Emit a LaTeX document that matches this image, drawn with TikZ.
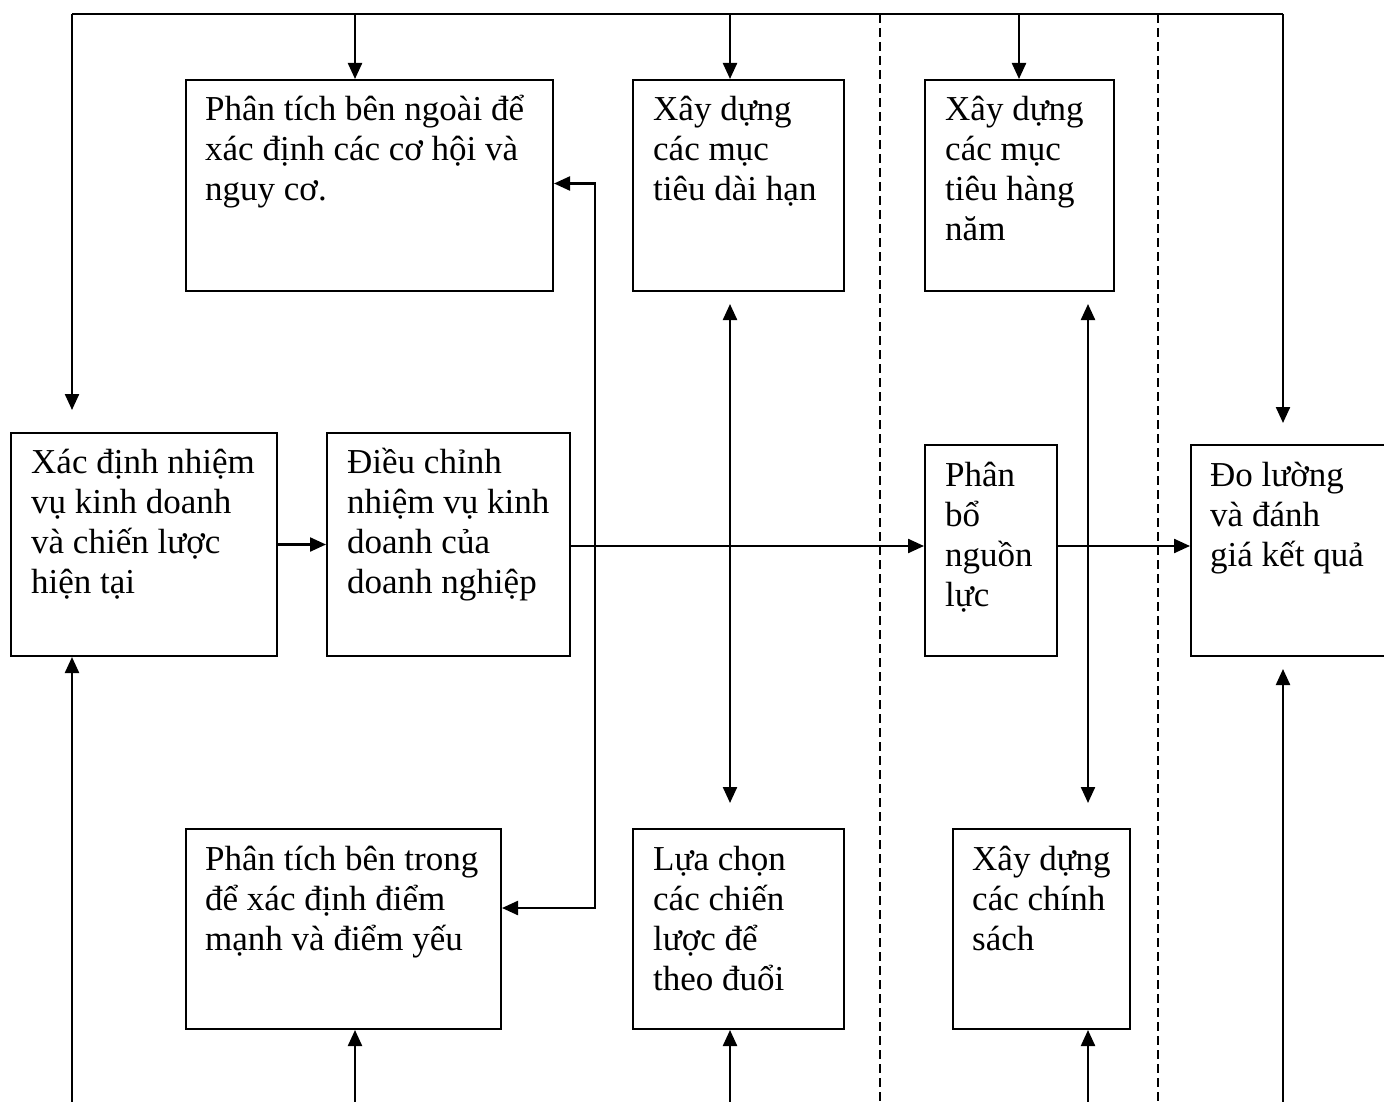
\documentclass[tikz,border=0pt]{standalone}
\usepackage{fontspec}
\setmainfont{Liberation Serif}
\usepackage{tikz}
\usetikzlibrary{arrows.meta}
\lineskiplimit=-30pt
\newcommand{\lnstrut}{\rule{0pt}{33pt}}

\begin{document}
\begin{tikzpicture}[line join=miter,>={Triangle[length=16pt,width=14pt]},x=1pt,y=-1pt,
  hop/.style={draw,line width=2pt,inner sep=0pt,anchor=north west},
  say/.style={anchor=north west,inner sep=0pt,align=left,font=\fontsize{35}{40}\selectfont},
  link/.style={line width=2.3pt},
  lane/.style={line width=1.4pt,dash pattern=on 9pt off 5pt}]
\useasboundingbox (0,0) rectangle (1384,1102);
% boxes
\node[hop,minimum width=367pt,minimum height=211pt] (ext) at (185,79) {};
\node[hop,minimum width=211pt,minimum height=211pt] (lt) at (632,79) {};
\node[hop,minimum width=189pt,minimum height=211pt] (ann) at (924,79) {};
\node[hop,minimum width=266pt,minimum height=223pt] (mission) at (10,432) {};
\node[hop,minimum width=243pt,minimum height=223pt] (adjust) at (326,432) {};
\node[hop,minimum width=132pt,minimum height=211pt] (alloc) at (924,444) {};
\node[hop,minimum width=210pt,minimum height=211pt] (measure) at (1190,444) {};
\node[hop,minimum width=315pt,minimum height=200pt] (int) at (185,828) {};
\node[hop,minimum width=211pt,minimum height=200pt] (cho) at (632,828) {};
\node[hop,minimum width=177pt,minimum height=200pt] (pol) at (952,828) {};
% texts
\node[say] (ext-txt) at ([shift={(20,8)}]ext.north west) {\lnstrut Phân tích bên ngoài để\\xác định các cơ hội và\\nguy cơ.};
\node[say] (lt-txt) at ([shift={(21,8)}]lt.north west) {\lnstrut Xây dựng\\các mục\\tiêu dài hạn};
\node[say] (ann-txt) at ([shift={(21,8)}]ann.north west) {\lnstrut Xây dựng\\các mục\\tiêu hàng\\năm};
\node[say] (mission-txt) at ([shift={(21,8)}]mission.north west) {\lnstrut Xác định nhiệm\\vụ kinh doanh\\và chiến lược\\hiện tại};
\node[say] (adjust-txt) at ([shift={(21,8)}]adjust.north west) {\lnstrut Điều chỉnh\\nhiệm vụ kinh\\doanh của\\doanh nghiệp};
\node[say] (alloc-txt) at ([shift={(21,9)}]alloc.north west) {\lnstrut Phân\\bổ\\nguồn\\lực};
\node[say] (measure-txt) at ([shift={(20,9)}]measure.north west) {\lnstrut Đo lường\\và đánh\\giá kết quả};
\node[say] (int-txt) at ([shift={(20,9)}]int.north west) {\lnstrut Phân tích bên trong\\để xác định điểm\\mạnh và điểm yếu};
\node[say] (cho-txt) at ([shift={(21,9)}]cho.north west) {\lnstrut Lựa chọn\\các chiến\\lược để\\theo đuổi};
\node[say] (pol-txt) at ([shift={(20,9)}]pol.north west) {\lnstrut Xây dựng\\các chính\\sách};
% free ends
\coordinate (tl) at (72,14);
\coordinate (tr) at (1283,14);
\coordinate (t-ext) at (355,14);
\coordinate (t-lt) at (730,14);
\coordinate (t-ann) at (1019,14);
\coordinate (b-mis) at (72,1102);
\coordinate (b-int) at (355,1102);
\coordinate (b-cho) at (730,1102);
\coordinate (b-pol) at (1088,1102);
\coordinate (b-mea) at (1283,1102);
\coordinate (fb) at (595,500);
% lanes
\draw[lane] (880,14) -- (880,1102);
\draw[lane] (1158,14) -- (1158,1102);
% top feedback
\draw[link] (tl) -- (tr);
\draw[link,->,shorten >=22pt] (tl) -- (tl |- mission.north);
\draw[link,->] (t-ext) -- (t-ext |- ext.north);
\draw[link,->] (t-lt) -- (t-lt |- lt.north);
\draw[link,->] (t-ann) -- (t-ann |- ann.north);
\draw[link,->,shorten >=21pt] (tr) -- (tr |- measure.north);
% bottom feedback
\draw[link,->] (b-mis) -- (b-mis |- mission.south);
\draw[link,->] (b-int) -- (b-int |- int.south);
\draw[link,->] (b-cho) -- (b-cho |- cho.south);
\draw[link,->] (b-pol) -- (b-pol |- pol.south);
\draw[link,->,shorten >=12pt] (b-mea) -- (b-mea |- measure.south);
% main flow
\draw[link,->] (mission.east) -- (adjust.west);
\draw[link,->] ([yshift=-1.5pt]adjust.east) -- ([yshift=-1.5pt]adjust.east -| alloc.west);
\draw[link,->] ([yshift=-1.5pt]adjust.east -| alloc.east) -- ([yshift=-1.5pt]adjust.east -| measure.west);
\draw[link,<->,shorten <=12pt,shorten >=25pt] (t-lt |- lt.south) -- (t-lt |- cho.north);
\draw[link,<->,shorten <=12pt,shorten >=25pt] (b-pol |- ann.south) -- (b-pol |- pol.north);
\draw[link,<->] ([yshift=2pt]ext.east) -| (fb) |- ([yshift=21pt]int.east);
\end{tikzpicture}
\end{document}
